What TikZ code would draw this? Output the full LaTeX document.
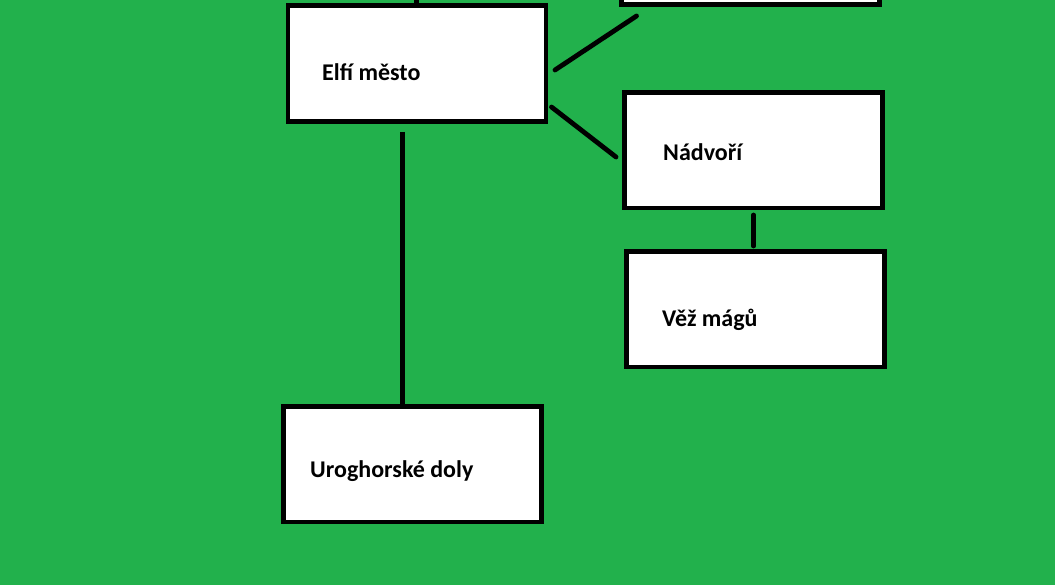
\documentclass[tikz,border=0pt]{standalone}
\usepackage{fontspec}
\setmainfont{Carlito}
\definecolor{paintgreen}{RGB}{34,177,76}
\begin{document}
\begin{tikzpicture}[x=1pt,y=-1pt,
  box/.style={draw=black,fill=white,line width=4.8pt,minimum width=258pt,minimum height=115.5pt,inner sep=0pt,outer sep=0pt},
  lbl/.style={anchor=base west,inner sep=0pt,font=\fontsize{24}{28}\selectfont\bfseries},
  conn/.style={draw=black,line width=4.8pt,line cap=round}]
\useasboundingbox (0,0) rectangle (1055,585);
\fill[paintgreen] (0,0) rectangle (1055,585);
\clip (0,0) rectangle (1055,585);
% boxes
\node[box] (elf) at (417,63.5) {};
\node[box] (top) at (750.8,-53) {};
\node[box] (nad) at (753.6,150.3) {};
\node[box] (vez) at (755.6,309.3) {};
\node[box] (uro) at (412.6,464.3) {};
% labels
\node[lbl] (elft) at (322,80.5) {Elfí město};
\node[lbl] (nadt) at (663,160.5) {Nádvoří};
\node[lbl] (vezt) at (662,326.5) {Věž mágů};
\node[lbl] (urot) at (310,477.5) {Uroghorské doly};
% connector endpoints
\coordinate (c0a) at (416.5,-5);
\coordinate (c1a) at (555,70);
\coordinate (c1b) at (636.5,16);
\coordinate (c2a) at (551.5,107);
\coordinate (c2b) at (616,157);
\coordinate (c3a) at (753.5,215);
\coordinate (c3b) at (753.5,246);
\coordinate (c4a) at (402.5,132);
\coordinate (c4b) at (402.5,404);
% connectors
\draw[conn,line cap=butt] (c0a) -- (elf.north -| c0a);
\draw[conn] (c1a) -- (c1b);
\draw[conn] (c2a) -- (c2b);
\draw[conn] (c3a) -- (c3b);
\draw[conn,line cap=butt] (c4a) -- (c4b);
\end{tikzpicture}
\end{document}
